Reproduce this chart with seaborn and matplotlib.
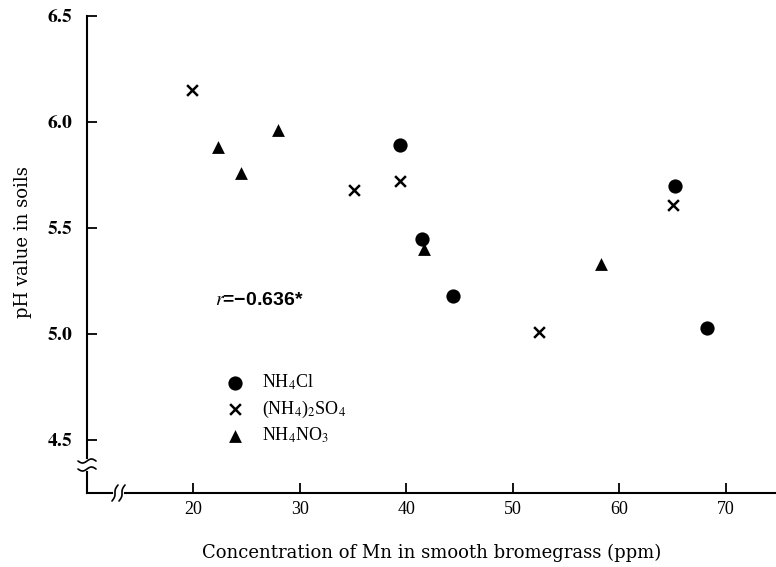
import numpy as np
import pandas as pd
import matplotlib
matplotlib.use("Agg")
import matplotlib.pyplot as plt
from matplotlib.font_manager import FontProperties
import seaborn as sns

# ---- data ----
treatments = ["NH$_4$Cl", "(NH$_4$)$_2$SO$_4$", "NH$_4$NO$_3$"]
nh4cl_mn = [39.4, 41.5, 44.4, 65.2, 68.2]
nh4cl_ph = [5.89, 5.45, 5.18, 5.70, 5.03]
so4_mn = [19.9, 35.1, 39.4, 52.4, 65.0]
so4_ph = [6.15, 5.68, 5.72, 5.01, 5.61]
no3_mn = [22.3, 24.5, 27.9, 41.6, 58.3]
no3_ph = [5.88, 5.76, 5.96, 5.40, 5.33]
x_ticks = [20, 30, 40, 50, 60, 70]
y_ticks = [4.5, 5.0, 5.5, 6.0, 6.5]
r_text = "$r$=\u22120.636*"
x_label = "Concentration of Mn in smooth bromegrass (ppm)"
y_label = "pH value in soils"

df = pd.concat([
    pd.DataFrame({"mn": nh4cl_mn, "ph": nh4cl_ph, "treatment": treatments[0]}),
    pd.DataFrame({"mn": so4_mn, "ph": so4_ph, "treatment": treatments[1]}),
    pd.DataFrame({"mn": no3_mn, "ph": no3_ph, "treatment": treatments[2]}),
], ignore_index=True)

sns.set_style("ticks")
plt.rcParams.update({
    "mathtext.fontset": "stix",
    "text.color": "black",
    "axes.labelcolor": "black",
    "axes.edgecolor": "black",
    "xtick.color": "black",
    "ytick.color": "black",
})
plt.rcParams["font.family"] = ["Liberation Serif", "DejaVu Serif"]

fig = plt.figure(figsize=(7.76, 5.67), dpi=100)
ax = fig.add_axes([87 / 776, 1 - 493 / 567, 689 / 776, 477 / 567])

styles = {
    treatments[0]: dict(marker="o", s=105, edgecolor="black", linewidth=0),
    treatments[1]: dict(marker="x", s=60, linewidth=1.8),
    treatments[2]: dict(marker="^", s=85, edgecolor="black", linewidth=0),
}
for t in treatments:
    sns.scatterplot(data=df[df["treatment"] == t], x="mn", y="ph", color="black",
                    label=t, ax=ax, zorder=5, **styles[t])

ax.set_xlim(10, 74.7)
ax.set_ylim(4.25, 6.5)
ax.set_xticks(x_ticks)
ax.set_yticks(y_ticks)
ax.set_xticklabels([str(v) for v in x_ticks], fontsize=13, family="Liberation Serif")
ax.set_yticklabels([r"$\mathbf{" + f"{v:.1f}" + "}$" for v in y_ticks], fontsize=14)
ax.tick_params(axis="x", direction="in", length=7, width=1.3, pad=6)
ax.tick_params(axis="y", direction="in", length=7, width=1.3, pad=10)
sns.despine(ax=ax)
for sp in ("left", "bottom"):
    ax.spines[sp].set_linewidth(1.5)

ax.set_xlabel(x_label, fontsize=13, family="DejaVu Serif")
ax.set_ylabel(y_label, fontsize=13, family="DejaVu Serif")
ax.xaxis.set_label_coords(0.5, (493 - 544) / 477)
ax.yaxis.set_label_coords((32 - 87) / 689, (493 - 242) / 477)

ax.text(22.0, 5.16, r_text, fontsize=14, family="Liberation Sans", fontweight="bold",
        va="center", ha="left")

h, l = ax.get_legend_handles_labels()
ax.legend(h, l, loc="center left", bbox_to_anchor=((226 - 87) / 689, (493 - 409) / 477),
          frameon=False, handlelength=1.0, handletextpad=1.0, labelspacing=0.35,
          borderpad=0, borderaxespad=0, prop=FontProperties(family="Liberation Serif", size=13))

# ---- axis break marks ----
W, H = 689.0, 477.0
t = np.linspace(-1, 1, 30)
# y-axis break
yb1, yb2 = (493 - 461) / H, (493 - 469) / H
ax.plot([0, 0], [yb2, yb1], color="white", lw=3, transform=ax.transAxes, clip_on=False, zorder=6)
for yb in (yb1, yb2):
    ax.plot(t * 9 / W, yb + 2.0 * np.sin(np.pi * t) / H, color="black", lw=1.2,
            transform=ax.transAxes, clip_on=False, zorder=7)
# x-axis break
xb1, xb2 = (115 - 87) / W, (122 - 87) / W
ax.plot([xb1, xb2], [0, 0], color="white", lw=3, transform=ax.transAxes, clip_on=False, zorder=6)
for xb in (xb1, xb2):
    ax.plot(xb + (3.0 * t - 1.0 * np.sin(np.pi * t)) / W, t * 8 / H, color="black", lw=1.2,
            transform=ax.transAxes, clip_on=False, zorder=7)

fig.savefig("out.png", dpi=100)
